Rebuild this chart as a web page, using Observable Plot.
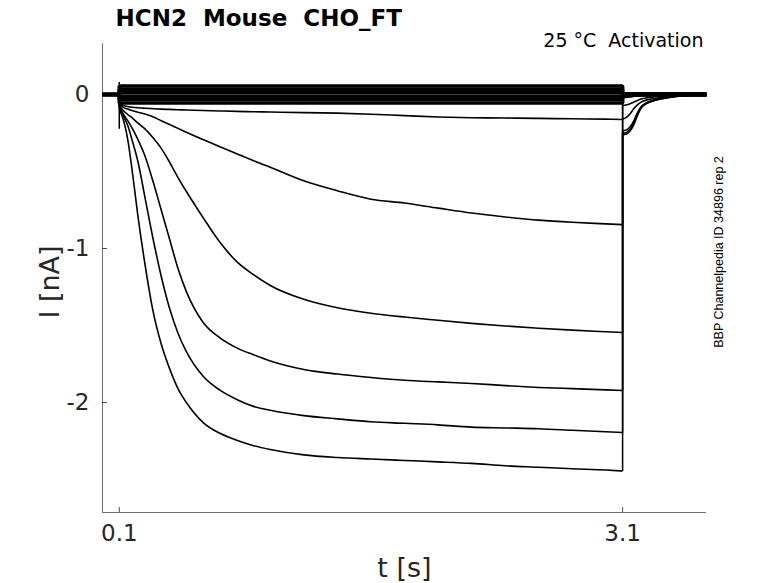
<!DOCTYPE html>
<html><head><meta charset="utf-8">
<script src="https://cdn.jsdelivr.net/npm/d3@7"></script>
<script src="https://cdn.jsdelivr.net/npm/@observablehq/plot@0.6"></script>
<style>html,body{margin:0;padding:0;background:#fff;} svg{display:block}</style>
</head><body><div id="chart"></div>
<script>
const titleText = "HCN2  Mouse  CHO_FT";
const condText = "25 °C  Activation";
const sideText = "BBP Channelpedia ID 34896 rep 2";
const xLabel = "t [s]";
const yLabel = "I [nA]";
const xTicks = [0.1, 3.1];
const xTickLabels = ["0.1", "3.1"];
const yTicks = [0, -1, -2];
const yTickLabels = ["0", "-1", "-2"];
const xDomain = [0, 3.6];
const yDomain = [-2.714, 0.331];

// holding period before the step
const holdT = [0, 0.1];
const holdI = [0, 0];
// capacitive transient at step onset
const spikeT = [0.1, 0.1];
const spikeI = [0.078, -0.22];

// activation step (t in s, I in nA)
const stepT = [0.1, 0.12, 0.15, 0.18, 0.21, 0.25, 0.3, 0.35, 0.4, 0.45, 0.5, 0.6, 0.7, 0.8, 0.9, 1.0, 1.2, 1.4, 1.6, 1.8, 2.0, 2.2, 2.4, 2.6, 2.8, 3.0, 3.1];
const traceA = [-0.05, -0.07, -0.078, -0.083, -0.086, -0.089, -0.092, -0.095, -0.097, -0.099, -0.101, -0.104, -0.107, -0.11, -0.112, -0.114, -0.118, -0.121, -0.128, -0.137, -0.146, -0.151, -0.153, -0.155, -0.158, -0.16, -0.162];
const traceB = [-0.06, -0.08, -0.095, -0.105, -0.115, -0.125, -0.145, -0.17, -0.195, -0.22, -0.245, -0.293, -0.34, -0.385, -0.43, -0.472, -0.56, -0.625, -0.68, -0.705, -0.738, -0.77, -0.795, -0.816, -0.83, -0.84, -0.845];
const traceC = [-0.07, -0.1, -0.13, -0.155, -0.185, -0.22, -0.28, -0.35, -0.44, -0.54, -0.63, -0.8, -0.96, -1.085, -1.17, -1.24, -1.33, -1.385, -1.42, -1.445, -1.466, -1.486, -1.503, -1.518, -1.53, -1.54, -1.545];
const traceD = [-0.08, -0.12, -0.17, -0.225, -0.29, -0.39, -0.56, -0.75, -0.94, -1.13, -1.28, -1.48, -1.58, -1.645, -1.69, -1.73, -1.785, -1.815, -1.837, -1.855, -1.866, -1.876, -1.89, -1.902, -1.91, -1.918, -1.922];
const traceE = [-0.09, -0.13, -0.2, -0.31, -0.43, -0.65, -0.93, -1.18, -1.39, -1.55, -1.67, -1.83, -1.92, -1.98, -2.025, -2.05, -2.085, -2.106, -2.125, -2.135, -2.145, -2.16, -2.165, -2.17, -2.18, -2.19, -2.195];
const traceF = [-0.1, -0.15, -0.29, -0.52, -0.78, -1.08, -1.4, -1.62, -1.78, -1.91, -2.0, -2.13, -2.2, -2.245, -2.28, -2.305, -2.34, -2.357, -2.367, -2.376, -2.385, -2.395, -2.41, -2.42, -2.43, -2.438, -2.445];

// deactivation tails after the step
const tailT = [3.1, 3.12, 3.145, 3.165, 3.185, 3.21, 3.245, 3.3, 3.385, 3.5, 3.6];
const tailA = [-0.02, -0.019, -0.016, -0.013, -0.01, -0.008, -0.006, -0.004, -0.002, -0.001, 0];
const tailB = [-0.07, -0.068, -0.06, -0.05, -0.04, -0.03, -0.022, -0.014, -0.008, -0.003, -0.001];
const tailC = [-0.16, -0.15, -0.125, -0.095, -0.071, -0.05, -0.035, -0.024, -0.012, -0.004, -0.001];
const tailD = [-0.235, -0.232, -0.21, -0.175, -0.125, -0.08, -0.052, -0.033, -0.016, -0.005, -0.002];
const tailE = [-0.25, -0.248, -0.225, -0.19, -0.135, -0.085, -0.055, -0.035, -0.017, -0.006, -0.002];
const tailF = [-0.26, -0.258, -0.235, -0.2, -0.145, -0.09, -0.058, -0.036, -0.018, -0.006, -0.002];

// non-activating sweeps (noisy band near zero)
const flatLevels = [0.055, 0.033, 0.011, -0.011, -0.033, -0.055];
const flatTailLevels = [0.003, 0.002, 0.001, -0.001, -0.002, -0.003];

const smoothRows = [];   // step and tail segments (smooth curve)
const linearRows = [];   // holding, transients and jumps (straight)
function add(target, name, ts, is) { ts.forEach((t, k) => target.push({seg: name, t, I: is[k]})); }
const traces = [["A", traceA, tailA], ["B", traceB, tailB], ["C", traceC, tailC], ["D", traceD, tailD], ["E", traceE, tailE], ["F", traceF, tailF]];
for (const [name, step, tail] of traces) {
  add(linearRows, name + "-on", holdT, holdI);
  if (name === "F") add(linearRows, name + "-on", spikeT, spikeI);
  add(linearRows, name + "-on", [stepT[0]], [step[0]]);
  add(smoothRows, name + "-step", stepT, step);
  add(linearRows, name + "-off", [stepT[stepT.length - 1], tailT[0]], [step[step.length - 1], tail[0]]);
  add(smoothRows, name + "-tail", tailT, tail);
}
const flatRows = [];
flatLevels.forEach((lv, k) => {
  const name = "flat" + k;
  add(flatRows, name, holdT, holdI);
  add(flatRows, name, [stepT[0], stepT[stepT.length - 1]], [lv, lv]);
  add(flatRows, name, [tailT[0], tailT[tailT.length - 1]], [flatTailLevels[k], flatTailLevels[k]]);
});

const axisColor = "#4d4d4d";
const plot = Plot.plot({
  width: 778, height: 583,
  marginLeft: 102, marginRight: 72, marginTop: 43, marginBottom: 71,
  x: {domain: xDomain},
  y: {domain: yDomain},
  style: {fontFamily: "DejaVu Sans", background: "white", color: "#262626", overflow: "visible"},
  marks: [
    Plot.ruleX([xDomain[0]], {stroke: axisColor, strokeWidth: 0.8}),
    Plot.ruleY([yDomain[0]], {stroke: axisColor, strokeWidth: 0.8}),
    Plot.axisX({ticks: xTicks, tickFormat: d => xTickLabels[xTicks.indexOf(d)], tickSize: -5, tickPadding: 17, fontSize: 23, label: null, stroke: axisColor}),
    Plot.axisY({ticks: yTicks, tickFormat: d => yTickLabels[yTicks.indexOf(d)], tickSize: -5, tickPadding: 18, fontSize: 23, label: null, stroke: axisColor}),
    Plot.line(flatRows, {x: "t", y: "I", z: "seg", stroke: "black", strokeWidth: 3.6, strokeLinecap: "butt", strokeLinejoin: "miter"}),
    Plot.line(linearRows, {x: "t", y: "I", z: "seg", stroke: "black", strokeWidth: 1.5, strokeLinecap: "butt"}),
    Plot.line(smoothRows, {x: "t", y: "I", z: "seg", stroke: "black", strokeWidth: 1.6, strokeLinecap: "butt", curve: "monotone-x"}),
    Plot.text([titleText], {text: d => d, frameAnchor: "top-left", textAnchor: "start", lineAnchor: "middle", dx: 13, dy: -25, fontSize: 23, fontWeight: "bold", fill: "black"}),
    Plot.text([condText], {text: d => d, frameAnchor: "top-right", textAnchor: "end", lineAnchor: "middle", dx: -3, dy: -3, fontSize: 19, fill: "black"}),
    Plot.text([sideText], {text: d => d, frameAnchor: "right", textAnchor: "middle", lineAnchor: "middle", rotate: -90, dx: 12, dy: -26, fontSize: 12.5, fontFamily: "Liberation Sans", fill: "black"}),
    Plot.text([yLabel], {text: d => d, frameAnchor: "left", textAnchor: "middle", lineAnchor: "middle", rotate: -90, dx: -52, dy: 4, fontSize: 27, fill: "#262626"}),
    Plot.text([xLabel], {text: d => d, frameAnchor: "bottom", textAnchor: "middle", lineAnchor: "middle", dy: 56, fontSize: 27, fill: "#262626"})
  ]
});
document.getElementById("chart").append(plot);
</script>
</body></html>
